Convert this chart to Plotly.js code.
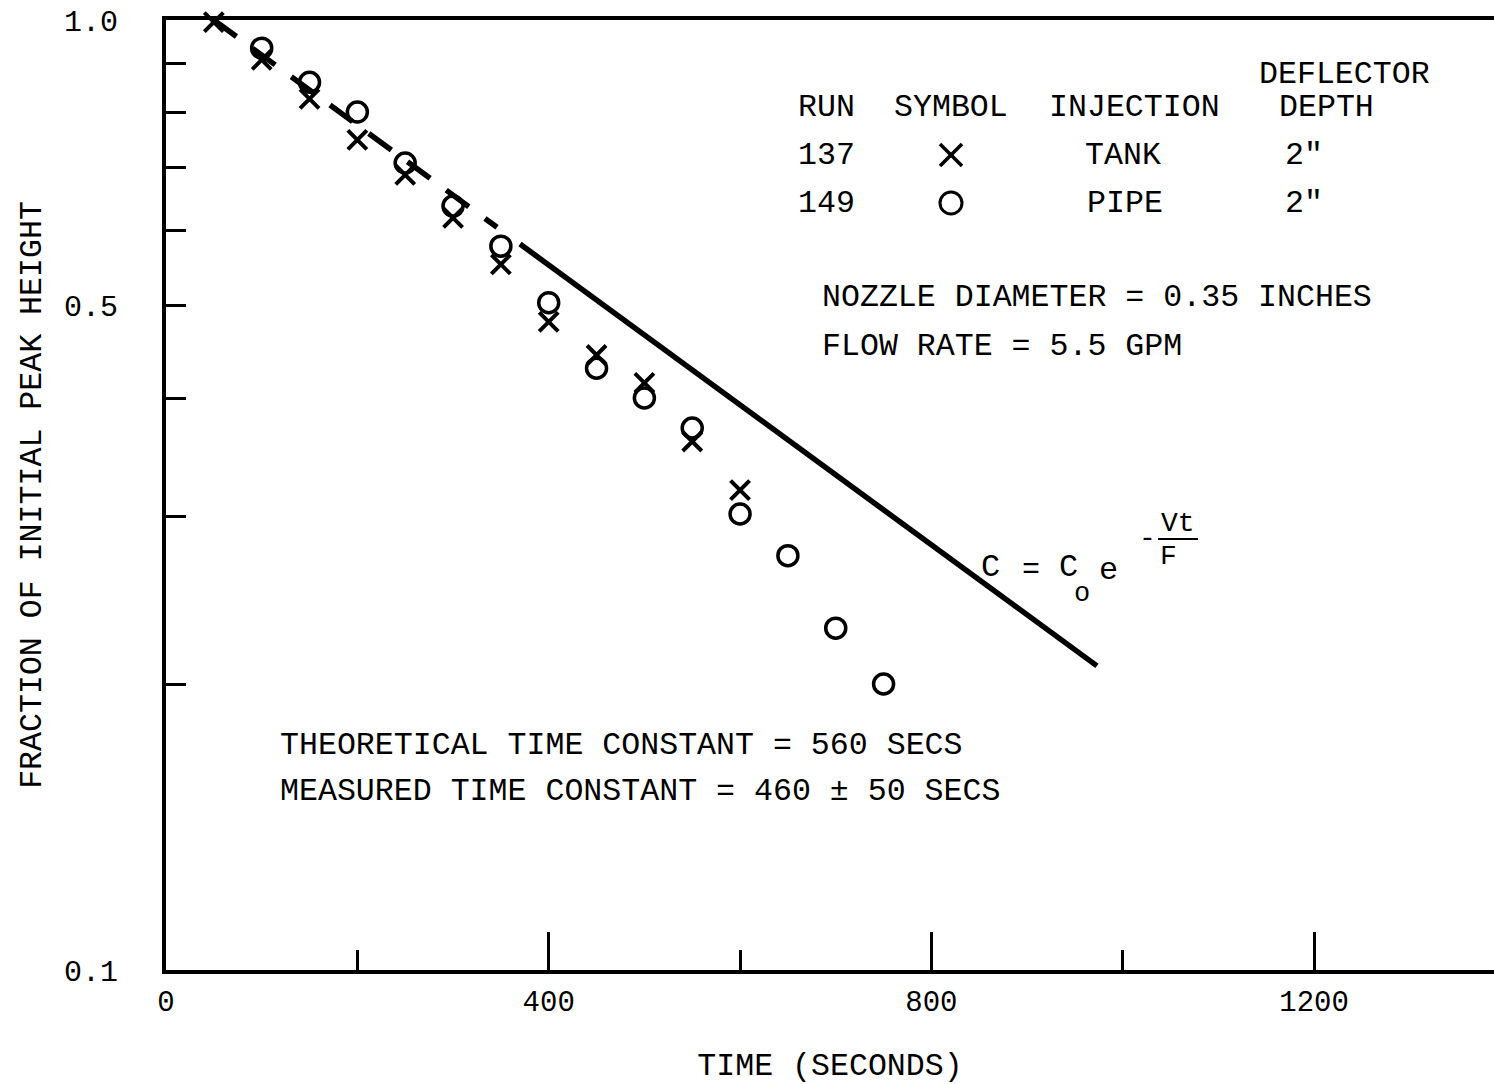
<!DOCTYPE html>
<html>
<head>
<meta charset="utf-8">
<script src="https://cdn.plot.ly/plotly-3.0.1.min.js"></script>
<style>
  html, body { margin: 0; padding: 0; background: #ffffff; }
  #chart { width: 1494px; height: 1084px; }
</style>
</head>
<body>
<div id="chart"></div>
<script>
// ---- data ----
const run137Time = [50, 100, 150, 200, 250, 300, 350, 400, 450, 500, 550, 600];
const run137Frac = [0.995, 0.908, 0.826, 0.748, 0.687, 0.619, 0.553, 0.481, 0.444, 0.415, 0.360, 0.320];

const run149Time = [100, 150, 200, 250, 300, 350, 400, 450, 500, 550, 600, 650, 700, 750];
const run149Frac = [0.934, 0.860, 0.800, 0.707, 0.637, 0.578, 0.504, 0.430, 0.400, 0.372, 0.302, 0.273, 0.229, 0.200];

// theoretical decay line C = Co e^(-Vt/F): dashed part, then solid part
const theoryDashTime = [50, 346];
const theoryDashFrac = [1.0, 0.605];
const theorySolidTime = [370, 973];
const theorySolidFrac = [0.581, 0.209];

const xTickVals = [0, 400, 800, 1200];
const xTickText = ['0', '400', '800', '1200'];
const xMinorVals = [200, 600, 1000];
const yTickVals = [0.1, 0.5, 1.0];
const yTickText = ['0.1', '0.5', '1.0'];
const yMinorVals = [0.2, 0.3, 0.4, 0.6, 0.7, 0.8, 0.9];

// ---- layout helpers (pixel -> paper) ----
const FIG_W = 1494, FIG_H = 1084;
const M = {l: 166, r: 0, t: 20, b: 114};
const PW = FIG_W - M.l - M.r, PH = FIG_H - M.t - M.b;
const px = x => (x - M.l) / PW;
const py = y => 1 - (y - M.t) / PH;

const FONT = 'Liberation Mono, DejaVu Sans Mono, monospace';
const BLACK = '#000000';
const TS = 31.6;

function txt(text, x, y, anchor, size) {
  return {
    text: text, xref: 'paper', yref: 'paper', x: px(x), y: py(y),
    xanchor: anchor || 'left', yanchor: 'middle', showarrow: false,
    font: {family: FONT, size: size || TS, color: BLACK}
  };
}

const traces = [
  {
    x: theoryDashTime, y: theoryDashFrac, mode: 'lines', type: 'scatter',
    line: {color: BLACK, width: 5.5, dash: '28px,20px'}, hoverinfo: 'skip', cliponaxis: false
  },
  {
    x: theorySolidTime, y: theorySolidFrac, mode: 'lines', type: 'scatter',
    line: {color: BLACK, width: 5.5}, hoverinfo: 'skip', cliponaxis: false
  },
  {
    x: run137Time, y: run137Frac, mode: 'markers', type: 'scatter', name: 'RUN 137',
    marker: {symbol: 'x-thin-open', size: 19, color: BLACK, line: {color: BLACK, width: 4}},
    cliponaxis: false
  },
  {
    x: run149Time, y: run149Frac, mode: 'markers', type: 'scatter', name: 'RUN 149',
    marker: {symbol: 'circle-open', size: 20, color: BLACK, line: {color: BLACK, width: 3.5}},
    cliponaxis: false
  }
];

const annotations = [
  txt('DEFLECTOR', 1257, 74),
  txt('RUN', 796, 107),
  txt('SYMBOL', 892, 107),
  txt('INJECTION', 1047, 107),
  txt('DEPTH', 1277, 107),
  txt('137', 796, 155),
  txt('TANK', 1083, 155),
  txt('2"', 1283, 155),
  txt('149', 796, 203),
  txt('PIPE', 1085, 203),
  txt('2"', 1283, 203),
  txt('NOZZLE DIAMETER = 0.35 INCHES', 820, 298),
  txt('FLOW RATE = 5.5 GPM', 820, 346),
  txt('THEORETICAL TIME CONSTANT = 560 SECS', 278, 745),
  txt('MEASURED TIME CONSTANT = 460 ± 50 SECS', 278, 791),
  // equation C = Co e^(-Vt/F)
  txt('C', 990, 567, 'center', 32),
  txt('=', 1031, 570, 'center', 30),
  txt('C', 1068, 567, 'center', 32),
  txt('o', 1082, 594, 'center', 27),
  txt('e', 1108, 570, 'center', 32),
  txt('-', 1147, 538, 'center', 28),
  txt('Vt', 1178, 523, 'center', 28),
  txt('F', 1168, 556, 'center', 28)
];

const shapes = [
  // fraction bar of the exponent
  {type: 'line', xref: 'paper', yref: 'paper', x0: px(1158), x1: px(1198), y0: py(539), y1: py(539),
   line: {color: BLACK, width: 2}},
  // legend symbol: X
  {type: 'line', xref: 'paper', yref: 'paper', x0: px(940), x1: px(962), y0: py(144), y1: py(166),
   line: {color: BLACK, width: 3.5}},
  {type: 'line', xref: 'paper', yref: 'paper', x0: px(940), x1: px(962), y0: py(166), y1: py(144),
   line: {color: BLACK, width: 3.5}},
  // legend symbol: O
  {type: 'circle', xref: 'paper', yref: 'paper', x0: px(940), x1: px(962), y0: py(192), y1: py(214),
   line: {color: BLACK, width: 3}}
];

const layout = {
  width: FIG_W, height: FIG_H,
  margin: M,
  paper_bgcolor: '#ffffff', plot_bgcolor: '#ffffff',
  showlegend: false,
  font: {family: FONT, size: TS, color: BLACK},
  xaxis: {
    range: [0, 1388],
    showgrid: false, zeroline: false,
    showline: true, linewidth: 4, linecolor: BLACK, mirror: true,
    tickmode: 'array', tickvals: xTickVals, ticktext: xTickText,
    ticks: 'inside', ticklen: 38, tickwidth: 3, tickcolor: BLACK,
    ticklabelstandoff: 2,
    tickfont: {family: FONT, size: 29, color: BLACK},
    minor: {tickmode: 'array', tickvals: xMinorVals, ticks: 'inside', ticklen: 20, tickwidth: 3, tickcolor: BLACK, showgrid: false},
    title: {text: 'TIME (SECONDS)', font: {family: FONT, size: TS, color: BLACK}, standoff: 48},
    automargin: false
  },
  yaxis: {
    type: 'log', range: [-1, 0],
    showgrid: false, zeroline: false,
    showline: true, linewidth: 4, linecolor: BLACK, mirror: false,
    tickmode: 'array', tickvals: yTickVals, ticktext: yTickText,
    ticks: 'inside', ticklen: 20, tickwidth: 3, tickcolor: BLACK,
    ticklabelstandoff: 38,
    tickfont: {family: FONT, size: 30, color: BLACK},
    minor: {tickmode: 'array', tickvals: yMinorVals, ticks: 'inside', ticklen: 20, tickwidth: 3, tickcolor: BLACK, showgrid: false},
    title: {text: 'FRACTION OF INITIAL PEAK HEIGHT', font: {family: FONT, size: TS, color: BLACK}, standoff: 14},
    automargin: false
  },
  annotations: annotations,
  shapes: shapes
};

Plotly.newPlot('chart', traces, layout, {staticPlot: true, displayModeBar: false});
</script>
</body>
</html>
